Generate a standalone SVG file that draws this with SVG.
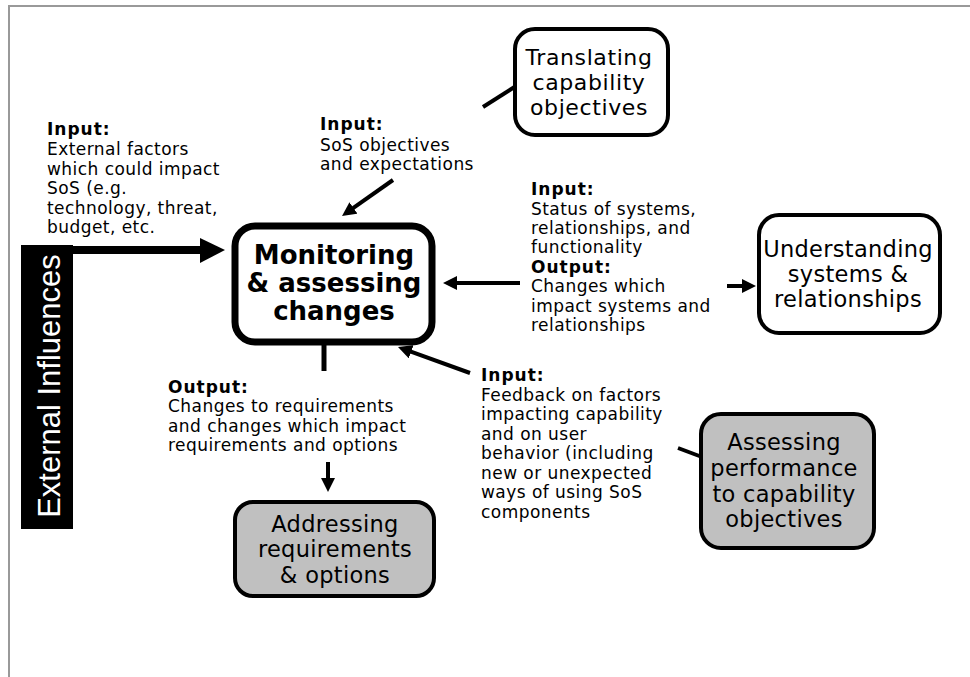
<svg xmlns="http://www.w3.org/2000/svg" width="970" height="677" viewBox="0 0 970 677">
<style>
.frame{stroke:#999;stroke-width:2;fill:none}
.box{fill:#fff;stroke:#000;stroke-width:4}
.gray{fill:#c0c0c0}
.main{fill:#fff;stroke:#000;stroke-width:7}
.bt{font-family:"DejaVu Sans",Verdana,sans-serif;font-size:22.5px;letter-spacing:0.3px;text-anchor:middle;fill:#000}
.mt{font-family:"DejaVu Sans",Verdana,sans-serif;font-size:26px;font-weight:bold;text-anchor:middle;fill:#000}
.lt{font-family:"DejaVu Sans",Verdana,sans-serif;font-size:17px;letter-spacing:0.45px;fill:#000}
.lt .h{font-weight:bold;letter-spacing:1px}
.ext{font-family:"Liberation Sans",Arial,sans-serif;font-size:31px;fill:#fff;text-anchor:middle}
.con{stroke:#000;stroke-width:4;fill:none}
</style>
<defs>
<marker id="ah" markerUnits="userSpaceOnUse" viewBox="0 0 14 14" refX="4" refY="7" markerWidth="14" markerHeight="14" orient="auto">
<path d="M0,0 L14,7 L0,14 z" fill="#000"/>
</marker>
</defs>
<rect width="970" height="677" fill="#fff"/>
<path class="frame" d="M9,677 L9,6 L970,6"/>

<g id="external-influences">
<rect x="21" y="245" width="52" height="284" fill="#000"/>
<text class="ext" transform="translate(60,386) rotate(-90)">External Influences</text>
</g>

<g id="monitoring">
<rect class="main" x="235" y="226" width="197" height="116" rx="20"/>
<text class="mt" x="334" y="264">Monitoring</text>
<text class="mt" x="334" y="292">&amp; assessing</text>
<text class="mt" x="334" y="320">changes</text>
</g>

<g id="translating">
<rect class="box" x="515" y="29" width="153" height="106" rx="20"/>
<text class="bt" x="589" y="65" style="font-size:22px;letter-spacing:0.6px">Translating</text>
<text class="bt" x="589" y="90" style="font-size:22px;letter-spacing:0.6px">capability</text>
<text class="bt" x="589" y="115" style="font-size:22px;letter-spacing:0.6px">objectives</text>
</g>

<g id="understanding">
<rect class="box" x="759" y="215" width="181" height="118" rx="20"/>
<text class="bt" x="848" y="257">Understanding</text>
<text class="bt" x="848" y="282">systems &amp;</text>
<text class="bt" x="848" y="307">relationships</text>
</g>

<g id="addressing">
<rect class="box gray" x="235" y="502" width="199" height="94" rx="18"/>
<text class="bt" x="335" y="532">Addressing</text>
<text class="bt" x="335" y="557">requirements</text>
<text class="bt" x="335" y="583">&amp; options</text>
</g>

<g id="assessing">
<rect class="box gray" x="701" y="414" width="173" height="134" rx="20"/>
<text class="bt" x="784" y="450">Assessing</text>
<text class="bt" x="784" y="476">performance</text>
<text class="bt" x="784" y="502">to capability</text>
<text class="bt" x="784" y="527">objectives</text>
</g>

<g id="connectors">
<rect x="73" y="246" width="128" height="8" fill="#000"/>
<polygon points="200,238 225,250 200,263" fill="#000"/>
<line class="con" x1="393" y1="180" x2="350.2" y2="210.2" marker-end="url(#ah)"/>
<line class="con" x1="520" y1="283" x2="453" y2="283" marker-end="url(#ah)"/>
<line class="con" x1="727" y1="286" x2="746" y2="286" marker-end="url(#ah)"/>
<line class="con" x1="324" y1="345" x2="324" y2="371" style="stroke-width:5"/>
<line class="con" x1="328" y1="462" x2="328" y2="482" marker-end="url(#ah)"/>
<line class="con" x1="470" y1="373" x2="407.4" y2="350.4" marker-end="url(#ah)"/>
<line class="con" x1="483" y1="107" x2="516" y2="86"/>
<line class="con" x1="678" y1="448" x2="702" y2="457"/>
</g>

<g id="labels">
<text class="lt" x="47"><tspan class="h" x="47" y="135">Input:</tspan><tspan x="47" y="155">External factors</tspan><tspan x="47" y="175">which could impact</tspan><tspan x="47" y="194">SoS (e.g.</tspan><tspan x="47" y="214">technology, threat,</tspan><tspan x="47" y="233">budget, etc.</tspan></text>
<text class="lt" x="320"><tspan class="h" x="320" y="130">Input:</tspan><tspan x="320" y="151">SoS objectives</tspan><tspan x="320" y="170">and expectations</tspan></text>
<text class="lt" x="531"><tspan class="h" x="531" y="195">Input:</tspan><tspan x="531" y="215">Status of systems,</tspan><tspan x="531" y="234">relationships, and</tspan><tspan x="531" y="253">functionality</tspan><tspan class="h" x="531" y="273">Output:</tspan><tspan x="531" y="292">Changes which</tspan><tspan x="531" y="312">impact systems and</tspan><tspan x="531" y="331">relationships</tspan></text>
<text class="lt" x="168"><tspan class="h" x="168" y="393">Output:</tspan><tspan x="168" y="412">Changes to requirements</tspan><tspan x="168" y="432">and changes which impact</tspan><tspan x="168" y="451">requirements and options</tspan></text>
<text class="lt" x="481"><tspan class="h" x="481" y="381">Input:</tspan><tspan x="481" y="401">Feedback on factors</tspan><tspan x="481" y="420">impacting capability</tspan><tspan x="481" y="440">and on user</tspan><tspan x="481" y="459">behavior (including</tspan><tspan x="481" y="479">new or unexpected</tspan><tspan x="481" y="498">ways of using SoS</tspan><tspan x="481" y="518">components</tspan></text>
</g>
</svg>
